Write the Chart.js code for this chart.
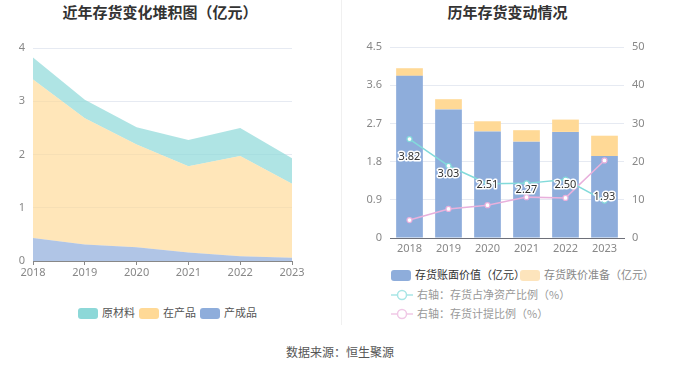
<!DOCTYPE html>
<html>
<head>
<meta charset="utf-8">
<script src="https://cdn.jsdelivr.net/npm/chart.js@4/dist/chart.umd.min.js"></script>
<style>
  body { margin: 0; background: #fff; font-family: "Noto Sans CJK SC", "Noto Sans", sans-serif; }
  #page { position: relative; width: 680px; height: 367px; overflow: hidden; }
  .title { position: absolute; top: 1px; font-size: 15px; font-weight: bold; color: #333; text-align: center; }
  .divider { position: absolute; left: 341px; top: 0; width: 1px; height: 325px; background: #f0f0f0; }
  .leg { position: absolute; font-size: 11px; color: #555; white-space: nowrap; line-height: 14px; }
  .box { display: inline-block; width: 20px; height: 11px; border-radius: 3px; vertical-align: -2px; margin-right: 4px; }
  .source { position: absolute; top: 343px; left: 0; width: 680px; text-align: center; font-size: 12px; color: #555; }
  canvas { position: absolute; }
</style>
</head>
<body>
<div id="page">
  <div class="title" style="left:0;width:320px;">近年存货变化堆积图（亿元）</div>
  <div class="title" style="left:340px;width:335px;">历年存货变动情况</div>
  <div class="divider"></div>

  <canvas id="areaChart" width="340" height="290" style="left:0;top:0;"></canvas>
  <canvas id="barChart" width="340" height="265" style="left:340px;top:0;"></canvas>

  <div class="leg" style="left:78px;top:305px;"><span class="box" style="background:#8dd8d8"></span>原材料</div>
  <div class="leg" style="left:139px;top:305px;"><span class="box" style="background:#ffd996"></span>在产品</div>
  <div class="leg" style="left:200px;top:305px;"><span class="box" style="background:#8eaddb"></span>产成品</div>

  <div class="leg" style="left:391px;top:267px;color:#333;"><span class="box" style="background:#8eaddb"></span>存货账面价值（亿元）</div>
  <div class="leg" style="left:520px;top:267px;color:#888;"><span class="box" style="background:#fde4bc"></span>存货跌价准备（亿元）</div>
  <div class="leg" style="left:391px;top:287px;color:#999;"><canvas id="ic1" width="22" height="12" style="position:relative;vertical-align:-2px;margin-right:4px;"></canvas>右轴：存货占净资产比例（%）</div>
  <div class="leg" style="left:391px;top:306px;color:#999;"><canvas id="ic2" width="22" height="12" style="position:relative;vertical-align:-2px;margin-right:4px;"></canvas>右轴：存货计提比例（%）</div>

  <div class="source">数据来源：恒生聚源</div>
</div>
<script>
// 年份
const years = ["2018", "2019", "2020", "2021", "2022", "2023"];

// 左图：存货构成（亿元）
const finishedGoods = [0.43, 0.31, 0.26, 0.16, 0.09, 0.06];
const workInProgress = [2.98, 2.37, 1.93, 1.62, 1.88, 1.39];
const rawMaterials = [0.41, 0.35, 0.32, 0.49, 0.53, 0.48];

// 右图
const bookValue = [3.82, 3.03, 2.51, 2.27, 2.50, 1.93];
const impairment = [0.18, 0.24, 0.24, 0.27, 0.29, 0.48];
const netAssetRatio = [25.9, 18.9, 14.2, 14.3, 15.3, 9.8];
const provisionRatio = [4.7, 7.6, 8.6, 10.7, 10.5, 20.3];

const leftTicks = [0, 1, 2, 3, 4];
const rightTicksL = [0, 0.9, 1.8, 2.7, 3.6, 4.5];

Chart.defaults.font.family = '"Noto Sans", "Noto Sans CJK SC", sans-serif';
Chart.defaults.animation = false;

const tickFont = { size: 11 };

new Chart(document.getElementById("areaChart"), {
  type: "line",
  data: {
    labels: years,
    datasets: [
      { label: "产成品", data: finishedGoods, fill: "origin", backgroundColor: "rgba(143,172,219,0.7)" },
      { label: "在产品", data: workInProgress, fill: "-1", backgroundColor: "rgba(255,217,148,0.65)" },
      { label: "原材料", data: rawMaterials, fill: "-1", backgroundColor: "rgba(141,216,216,0.7)" }
    ].map(d => Object.assign(d, { borderWidth: 0, pointRadius: 0, tension: 0 }))
  },
  options: {
    responsive: false,
    layout: { padding: { top: 48, right: 48, bottom: 9, left: 0 } },
    plugins: { legend: { display: false }, tooltip: { enabled: false } },
    scales: {
      x: {
        offset: false,
        grid: { drawOnChartArea: false, tickLength: 4, tickColor: "#888", display: true },
        border: { color: "#888" },
        ticks: { color: "#888", font: tickFont, padding: 1, maxRotation: 0 },
        afterFit: s => { s.height = 20; }
      },
      y: {
        stacked: true,
        min: 0, max: 4,
        afterBuildTicks: s => { s.ticks = leftTicks.map(v => ({ value: v })); },
        grid: { color: "#e6eaf2", drawTicks: false },
        border: { display: false },
        ticks: { color: "#888", font: tickFont, padding: 8 },
        afterFit: s => { s.width = 33; }
      }
    }
  }
});

const barLabels = {
  id: "barLabels",
  afterDatasetsDraw(chart) {
    const ctx = chart.ctx;
    const meta = chart.getDatasetMeta(2);
    const yScale = chart.scales.y;
    ctx.save();
    ctx.font = '11px "Noto Sans", sans-serif';
    ctx.textAlign = "center";
    ctx.textBaseline = "middle";
    ctx.lineJoin = "round";
    meta.data.forEach((bar, i) => {
      const y = yScale.getPixelForValue(bookValue[i] / 2);
      const txt = bookValue[i].toFixed(2);
      ctx.strokeStyle = "#fff";
      ctx.lineWidth = 3;
      ctx.strokeText(txt, bar.x, y);
      ctx.fillStyle = "#333";
      ctx.fillText(txt, bar.x, y);
    });
    ctx.restore();
  }
};

new Chart(document.getElementById("barChart"), {
  type: "bar",
  data: {
    labels: years,
    datasets: [
      { type: "line", label: "右轴：存货占净资产比例（%）", data: netAssetRatio, yAxisID: "y1",
        borderColor: "#82dada", borderWidth: 1.5, pointRadius: 2.5, pointBorderWidth: 1.2,
        pointBackgroundColor: "#fff", pointBorderColor: "#82dada", tension: 0, order: 0 },
      { type: "line", label: "右轴：存货计提比例（%）", data: provisionRatio, yAxisID: "y1",
        borderColor: "#e8b0dc", borderWidth: 1.5, pointRadius: 2.5, pointBorderWidth: 1.2,
        pointBackgroundColor: "#fff", pointBorderColor: "#e8b0dc", tension: 0, order: 0 },
      { label: "存货账面价值（亿元）", data: bookValue, backgroundColor: "#8eaddb", stack: "s", order: 1,
        barPercentage: 0.685, categoryPercentage: 1 },
      { label: "存货跌价准备（亿元）", data: impairment, backgroundColor: "#ffd996", stack: "s", order: 1,
        barPercentage: 0.685, categoryPercentage: 1 }
    ]
  },
  options: {
    responsive: false,
    layout: { padding: { top: 47, right: 0, bottom: 7, left: 0 } },
    plugins: { legend: { display: false }, tooltip: { enabled: false } },
    scales: {
      x: {
        stacked: true,
        grid: { display: false },
        border: { color: "#6e7079" },
        ticks: { color: "#888", font: tickFont, padding: -4, maxRotation: 0 },
        afterFit: s => { s.height = 20; }
      },
      y: {
        stacked: true,
        min: 0, max: 4.5,
        afterBuildTicks: s => { s.ticks = rightTicksL.map(v => ({ value: v })); },
        grid: { color: "#e6eaf2", drawTicks: false },
        border: { display: false },
        ticks: { color: "#888", font: tickFont, padding: 8, callback: v => String(v) },
        afterFit: s => { s.width = 50; }
      },
      y1: {
        position: "right",
        min: 0, max: 50,
        ticks: { stepSize: 10, color: "#888", font: tickFont, padding: 8 },
        grid: { drawOnChartArea: false, drawTicks: false },
        border: { display: false },
        afterFit: s => { s.width = 56; }
      }
    }
  },
  plugins: [barLabels]
});

// 图例里的折线图标
function drawIcon(id, color) {
  const c = document.getElementById(id).getContext("2d");
  c.strokeStyle = color;
  c.lineWidth = 1.5;
  c.beginPath(); c.moveTo(0, 6); c.lineTo(22, 6); c.stroke();
  c.fillStyle = "#fff";
  c.beginPath(); c.arc(11, 6, 4.5, 0, Math.PI * 2); c.fill(); c.stroke();
}
drawIcon("ic1", "#a8e6e6");
drawIcon("ic2", "#f0c8e6");
</script>
</body>
</html>
